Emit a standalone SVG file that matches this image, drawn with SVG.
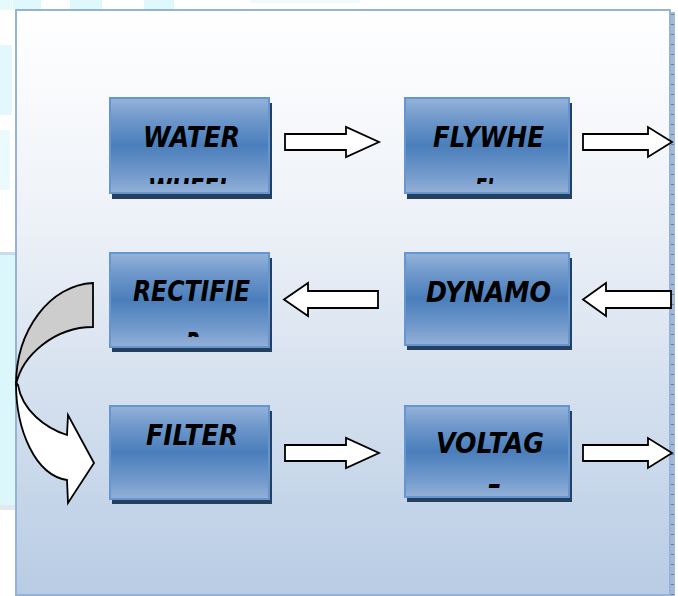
<svg xmlns="http://www.w3.org/2000/svg" width="678" height="596" viewBox="0 0 678 596">
  <defs>
    <linearGradient id="panelFill" x1="0" y1="0" x2="0" y2="1">
      <stop offset="0" stop-color="#ffffff"/>
      <stop offset="0.35" stop-color="#eef2f8"/>
      <stop offset="1" stop-color="#b8cce4"/>
    </linearGradient>
    <linearGradient id="boxFill" x1="0" y1="0" x2="0" y2="1">
      <stop offset="0" stop-color="#95b3d9"/>
      <stop offset="0.22" stop-color="#6f98cb"/>
      <stop offset="0.5" stop-color="#4a7ebb"/>
      <stop offset="0.78" stop-color="#6f98cb"/>
      <stop offset="1" stop-color="#93b0d8"/>
    </linearGradient>
    <pattern id="rulerTicks" x="0" y="0" width="5" height="10" patternUnits="userSpaceOnUse">
      <rect width="5" height="10" fill="#a3b9d9"/>
      <rect x="1" y="4" width="3" height="1" fill="#6b7f9c"/>
    </pattern>
    <clipPath id="clipWater"><rect x="110" y="98" width="159" height="86"/></clipPath>
    <clipPath id="clipFly"><rect x="405" y="98" width="164" height="86"/></clipPath>
    <clipPath id="clipRect"><rect x="110" y="253" width="159" height="84"/></clipPath>
    <clipPath id="clipDyn"><rect x="405" y="253" width="164" height="84"/></clipPath>
    <clipPath id="clipFilt"><rect x="110" y="406" width="159" height="82"/></clipPath>
    <clipPath id="clipVolt"><rect x="405" y="406" width="164" height="82"/></clipPath>
  </defs>
  <style>
    .shadow { fill: #243f60; }
    .box { fill: url(#boxFill); stroke: #6696d2; stroke-width: 2; }
    .label { font-family: "DejaVu Sans", "Liberation Sans", sans-serif; font-weight: bold; font-style: italic; font-size: 29px; fill: #000000; }
    .block { fill: #ffffff; stroke: #000000; stroke-width: 1.8; stroke-linejoin: miter; }
  </style>

  <!-- window background behind the panel -->
  <rect x="0" y="0" width="678" height="596" fill="#ffffff"/>
  <rect x="0" y="255" width="15" height="250" fill="#dcf7fc"/>
  <rect x="0" y="252" width="15" height="3" fill="#c9dcef"/>
  <rect x="0" y="505" width="15" height="5" fill="#e6e8ec"/>
  <rect x="0" y="45" width="12" height="70" fill="#e2f8fc"/>
  <rect x="0" y="130" width="10" height="60" fill="#eafafd"/>
  <rect x="0" y="0" width="12" height="10" fill="#e6f9fc"/>
  <rect x="13" y="0" width="28" height="9" fill="#dff8fc"/>
  <rect x="70" y="0" width="32" height="9" fill="#dff8fc"/>
  <rect x="144" y="0" width="30" height="9" fill="#dff8fc"/>
  <rect x="250" y="0" width="110" height="3" fill="#eefafd"/>

  <!-- slide panel -->
  <rect x="16" y="10" width="654" height="585" fill="url(#panelFill)" stroke="#95b3d7" stroke-width="2"/>
  <rect x="671" y="12" width="4" height="584" fill="url(#rulerTicks)"/>

  <!-- connectors -->
  <g id="connectors">
    <polygon class="block" points="285,134 346,134 346,127 379,142 346,157 346,150 285,150"/>
    <polygon class="block" points="583,134 648,134 648,127 672,142 648,157 648,150 583,150"/>
    <polygon class="block" points="378,291 308,291 308,283 284,299.5 308,316 308,308 378,308"/>
    <polygon class="block" points="671,291 606,291 606,283 583,299.5 606,316 606,308 671,308"/>
    <polygon class="block" points="285,445 346,445 346,438 379,453 346,468 346,461 285,461"/>
    <polygon class="block" points="583,445 648,445 648,438 672,453 648,468 648,461 583,461"/>
    <!-- curved arrow from rectifier down to filter -->
    <path d="M93,283 C50,285 16,330 16,385 C22,355 55,327 93,327 Z" fill="#cdcdcd" stroke="#000000" stroke-width="1.8"/>
    <path class="block" d="M16,383 C16,430 35,475 67,480 L68,503 L94,463 L68,415 L67,435 C45,428 22,410 18,385 Z"/>
  </g>

  <g id="water-wheel">
    <rect class="shadow" x="112" y="103" width="160" height="96"/>
    <rect class="box" x="110" y="98" width="159" height="95"/>
    <g clip-path="url(#clipWater)">
      <text class="label" x="143" y="147" textLength="97" lengthAdjust="spacingAndGlyphs">WATER</text>
      <text class="label" x="148" y="199" textLength="84" lengthAdjust="spacingAndGlyphs">WHEEL</text>
    </g>
  </g>

  <g id="flywheel">
    <rect class="shadow" x="407" y="103" width="165" height="96"/>
    <rect class="box" x="405" y="98" width="164" height="95"/>
    <g clip-path="url(#clipFly)">
      <text class="label" x="433" y="147" textLength="111" lengthAdjust="spacingAndGlyphs">FLYWHE</text>
      <text class="label" x="475" y="199" textLength="23" lengthAdjust="spacingAndGlyphs">EL</text>
    </g>
  </g>

  <g id="rectifier">
    <rect class="shadow" x="112" y="258" width="160" height="94"/>
    <rect class="box" x="110" y="253" width="159" height="94"/>
    <g clip-path="url(#clipRect)">
      <text class="label" x="133" y="301" textLength="117" lengthAdjust="spacingAndGlyphs">RECTIFIE</text>
      <text class="label" x="186" y="353" textLength="14" lengthAdjust="spacingAndGlyphs">R</text>
    </g>
  </g>

  <g id="dynamo">
    <rect class="shadow" x="407" y="258" width="165" height="92"/>
    <rect class="box" x="405" y="253" width="164" height="92"/>
    <g clip-path="url(#clipDyn)">
      <text class="label" x="426" y="302" textLength="125" lengthAdjust="spacingAndGlyphs">DYNAMO</text>
    </g>
  </g>

  <g id="filter">
    <rect class="shadow" x="112" y="411" width="160" height="93"/>
    <rect class="box" x="110" y="406" width="159" height="93"/>
    <g clip-path="url(#clipFilt)">
      <text class="label" x="146" y="445" textLength="92" lengthAdjust="spacingAndGlyphs">FILTER</text>
    </g>
  </g>

  <g id="voltage">
    <rect class="shadow" x="407" y="411" width="165" height="91"/>
    <rect class="box" x="405" y="406" width="164" height="91"/>
    <g clip-path="url(#clipVolt)">
      <text class="label" x="436" y="453" textLength="108" lengthAdjust="spacingAndGlyphs">VOLTAG</text>
      <text class="label" x="486" y="505" textLength="14" lengthAdjust="spacingAndGlyphs">E</text>
    </g>
  </g>
</svg>
